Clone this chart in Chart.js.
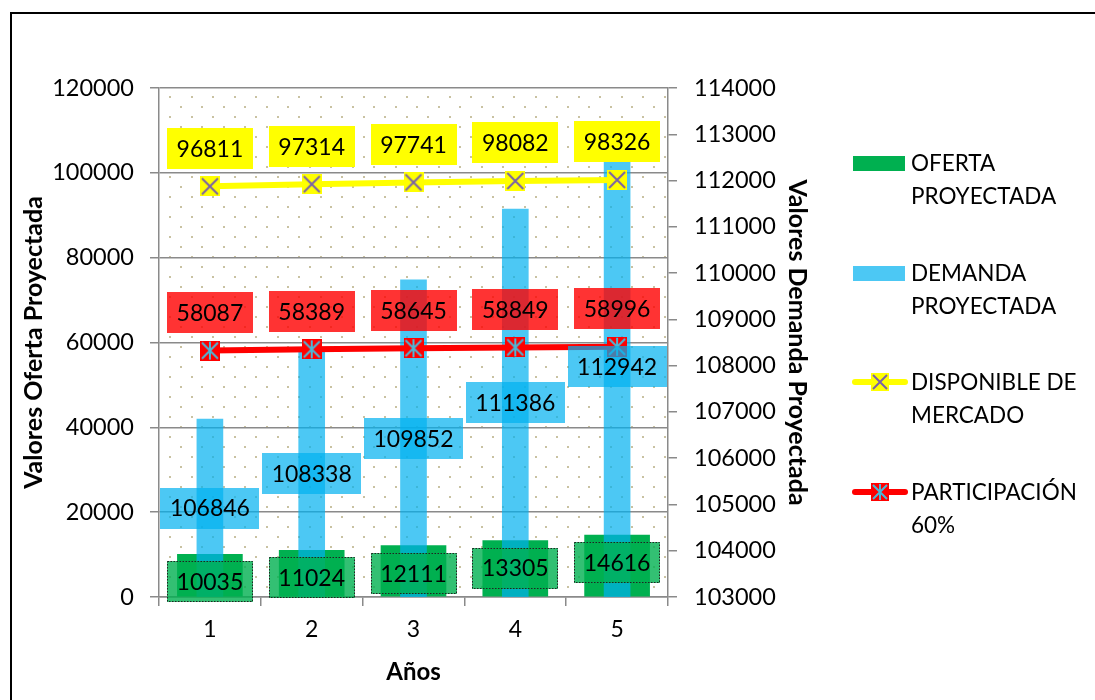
<!DOCTYPE html>
<html>
<head>
<meta charset="utf-8">
<script src="https://cdn.jsdelivr.net/npm/chart.js@4.4.1/dist/chart.umd.min.js"></script>
<style>
  html, body { margin: 0; padding: 0; background: #ffffff; }
  canvas { display: block; }
</style>
</head>
<body>
<canvas id="chart" width="1095" height="700"></canvas>
<script>
// Projected supply / demand per year
const years = ['1', '2', '3', '4', '5'];
const ofertaProyectada = [10035, 11024, 12111, 13305, 14616];
const demandaProyectada = [106846, 108338, 109852, 111386, 112942];
const disponibleMercado = [96811, 97314, 97741, 98082, 98326];
const participacion60 = [58087, 58389, 58645, 58849, 58996];

// Axis ranges: [min, max, step]
const ofertaAxis = [0, 120000, 20000];
const demandaAxis = [103000, 114000, 1000];

const legendNames = [
  ['OFERTA', 'PROYECTADA'],
  ['DEMANDA', 'PROYECTADA'],
  ['DISPONIBLE DE', 'MERCADO'],
  ['PARTICIPACIÓN', '60%']
];
const titleLeft = 'Valores Oferta Proyectada';
const titleRight = 'Valores Demanda Proyectada';
const titleBottom = 'Años';

const FONT = 'Lato, "Open Sans", sans-serif';
const GREEN = '#00B050';
const BLUE = 'rgba(0,176,240,0.7)';
const GRID = '#8a8a8a';

// Square marker with an X (optionally with a vertical stroke -> asterisk)
function makeMarker(size, fill, stroke, asterisk) {
  const c = document.createElement('canvas');
  c.width = size; c.height = size;
  const g = c.getContext('2d');
  g.fillStyle = fill;
  g.fillRect(0, 0, size, size);
  g.strokeStyle = stroke;
  g.lineWidth = 2;
  g.beginPath();
  g.moveTo(2, 2); g.lineTo(size - 2, size - 2);
  g.moveTo(size - 2, 2); g.lineTo(2, size - 2);
  if (asterisk) { g.moveTo(size / 2, 1); g.lineTo(size / 2, size - 1); }
  g.stroke();
  return c;
}
const yellowMarker = makeMarker(20, '#FFFF00', '#7A62A8', false);
const redMarker = makeMarker(20, '#FF0000', '#4BB8D8', true);
const yellowMarkerSmall = makeMarker(18, '#FFFF00', '#7A62A8', false);
const redMarkerSmall = makeMarker(18, '#FF0000', '#4BB8D8', true);

// Dotted plot-area background
const dottedBackground = {
  id: 'dottedBackground',
  beforeDraw(chart) {
    const { ctx, chartArea: a } = chart;
    ctx.save();
    ctx.fillStyle = '#ffffff';
    ctx.fillRect(0, 0, chart.width, chart.height);
    ctx.fillStyle = '#c9c2a2';
    let row = 0;
    for (let y = a.top + 9; y < a.bottom; y += 10, row++) {
      const start = a.left + 11 + (row % 2 ? 10.75 : 0);
      for (let x = start; x < a.right; x += 21.5) {
        ctx.fillRect(Math.round(x) - 1, Math.round(y) - 1, 2, 2);
      }
    }
    ctx.restore();
  }
};

function labelBox(ctx, cx, cy, text, fill, dotted) {
  ctx.font = '23px ' + FONT;
  const w = Math.round(ctx.measureText(text).width + 19);
  const h = 41;
  const x = Math.round(cx - w / 2), y = Math.round(cy - h / 2);
  ctx.fillStyle = fill;
  ctx.fillRect(x, y, w, h);
  if (dotted) {
    ctx.save();
    ctx.strokeStyle = '#222';
    ctx.lineWidth = 1;
    ctx.setLineDash([1.5, 1.5]);
    ctx.strokeRect(x + 0.5, y + 0.5, w - 1, h - 1);
    ctx.restore();
  }
  ctx.fillStyle = '#000';
  ctx.textAlign = 'center';
  ctx.textBaseline = 'middle';
  ctx.fillText(text, cx, cy + 1);
}

// Value labels: inside the end of the supply bars, centred on the demand
// bars, above the line points
const valueLabels = {
  id: 'valueLabels',
  afterDatasetsDraw(chart) {
    const ctx = chart.ctx;
    ctx.save();
    const draw = (di, fill, dotted, mode) => {
      const ds = chart.data.datasets[di];
      const scale = chart.scales[ds.yAxisID];
      const xScale = chart.scales.x;
      ds.data.forEach((v, i) => {
        const text = String(v);
        const px = xScale.getPixelForValue(i);
        const top = scale.getPixelForValue(v);
        if (mode === 'center') {
          const base = scale.getPixelForValue(scale.min);
          labelBox(ctx, px, (top + base) / 2, text, fill, dotted);
        } else if (mode === 'insideEnd') {
          labelBox(ctx, px, top + 27.5, text, fill, dotted);
        } else {
          labelBox(ctx, px, top - 38, text, fill, dotted);
        }
      });
    };
    draw(0, 'rgba(0,176,80,0.8)', true, 'insideEnd');
    draw(1, 'rgba(0,176,240,0.7)', false, 'center');
    draw(2, '#FFFF00', false, 'above');
    draw(3, 'rgba(255,0,0,0.8)', false, 'above');
    ctx.restore();
  }
};

// Axis titles, legend and frame
const decorations = {
  id: 'decorations',
  afterDraw(chart) {
    const ctx = chart.ctx;
    const a = chart.chartArea;
    const midY = (a.top + a.bottom) / 2;
    ctx.save();
    ctx.fillStyle = '#000';
    ctx.textAlign = 'center';
    ctx.textBaseline = 'middle';
    ctx.font = 'bold 25px ' + FONT;

    ctx.save();
    ctx.translate(34, midY);
    ctx.rotate(-Math.PI / 2);
    ctx.fillText(titleLeft, 0, 0);
    ctx.restore();

    ctx.save();
    ctx.translate(797, midY);
    ctx.rotate(Math.PI / 2);
    ctx.fillText(titleRight, 0, 0);
    ctx.restore();

    ctx.font = 'bold 24px ' + FONT;
    ctx.fillText(titleBottom, (a.left + a.right) / 2, 672);

    // legend
    const lx = 853, tx = 911;
    const rows = [163, 273, 382, 492];
    ctx.fillStyle = GREEN;
    ctx.fillRect(lx, rows[0] - 7, 52, 15);
    ctx.fillStyle = BLUE;
    ctx.fillRect(lx, rows[1] - 7, 52, 15);
    const legendLine = (y, color, marker) => {
      ctx.strokeStyle = color;
      ctx.lineWidth = 6;
      ctx.lineCap = 'round';
      ctx.beginPath();
      ctx.moveTo(lx + 2, y);
      ctx.lineTo(lx + 52, y);
      ctx.stroke();
      ctx.drawImage(marker, lx + 27 - marker.width / 2, y - marker.height / 2);
    };
    legendLine(rows[2], '#FFFF00', yellowMarkerSmall);
    legendLine(rows[3], '#FF0000', redMarkerSmall);

    ctx.fillStyle = '#000';
    ctx.textAlign = 'left';
    ctx.font = '22.5px ' + FONT;
    legendNames.forEach((lines, i) => {
      lines.forEach((t, j) => ctx.fillText(t, tx, rows[i] + j * 33 + 1));
    });

    // outer frame
    ctx.strokeStyle = '#000';
    ctx.lineWidth = 2;
    ctx.strokeRect(11, 13, 1200, 800);
    ctx.restore();
  }
};

const plainNumber = (v) => String(v);

new Chart(document.getElementById('chart'), {
  type: 'bar',
  data: {
    labels: years,
    datasets: [
      {
        label: 'OFERTA PROYECTADA',
        data: ofertaProyectada,
        backgroundColor: GREEN,
        barThickness: 65,
        grouped: false,
        yAxisID: 'y',
        order: 3
      },
      {
        label: 'DEMANDA PROYECTADA',
        data: demandaProyectada,
        backgroundColor: BLUE,
        barThickness: 26,
        grouped: false,
        yAxisID: 'y2',
        order: 2
      },
      {
        type: 'line',
        label: 'DISPONIBLE DE MERCADO',
        data: disponibleMercado,
        borderColor: '#FFFF00',
        borderWidth: 6,
        pointStyle: yellowMarker,
        pointRadius: 10,
        yAxisID: 'y',
        order: 1
      },
      {
        type: 'line',
        label: 'PARTICIPACIÓN 60%',
        data: participacion60,
        borderColor: '#FF0000',
        borderWidth: 6,
        pointStyle: redMarker,
        pointRadius: 10,
        yAxisID: 'y',
        order: 0
      }
    ]
  },
  options: {
    responsive: false,
    animation: false,
    layout: { padding: { top: 88, right: 277, bottom: 0, left: 0 } },
    plugins: {
      legend: { display: false },
      tooltip: { enabled: false },
      title: { display: false }
    },
    scales: {
      x: {
        offset: true,
        grid: { offset: true, drawOnChartArea: false, drawTicks: true, tickLength: 9, color: GRID, lineWidth: 1.5 },
        border: { color: GRID, width: 1.5 },
        ticks: { color: '#000', font: { family: FONT, size: 23 }, padding: 10 },
        afterFit(s) { s.height = 103; }
      },
      y: {
        position: 'left',
        min: ofertaAxis[0], max: ofertaAxis[1],
        grid: { color: GRID, lineWidth: 1.5, tickLength: 9 },
        border: { color: GRID, width: 1.5 },
        ticks: { stepSize: ofertaAxis[2], color: '#000', font: { family: FONT, size: 23.5 }, padding: 16, callback: plainNumber },
        afterFit(s) { s.width = 159; }
      },
      y2: {
        position: 'right',
        min: demandaAxis[0], max: demandaAxis[1],
        grid: { drawOnChartArea: false, color: GRID, lineWidth: 1.5, tickLength: 9 },
        border: { color: GRID, width: 1.5 },
        ticks: { stepSize: demandaAxis[2], color: '#000', font: { family: FONT, size: 23.5 }, padding: 17, callback: plainNumber },
        afterFit(s) { s.width = 150; }
      }
    }
  },
  plugins: [dottedBackground, valueLabels, decorations]
});
</script>
</body>
</html>
